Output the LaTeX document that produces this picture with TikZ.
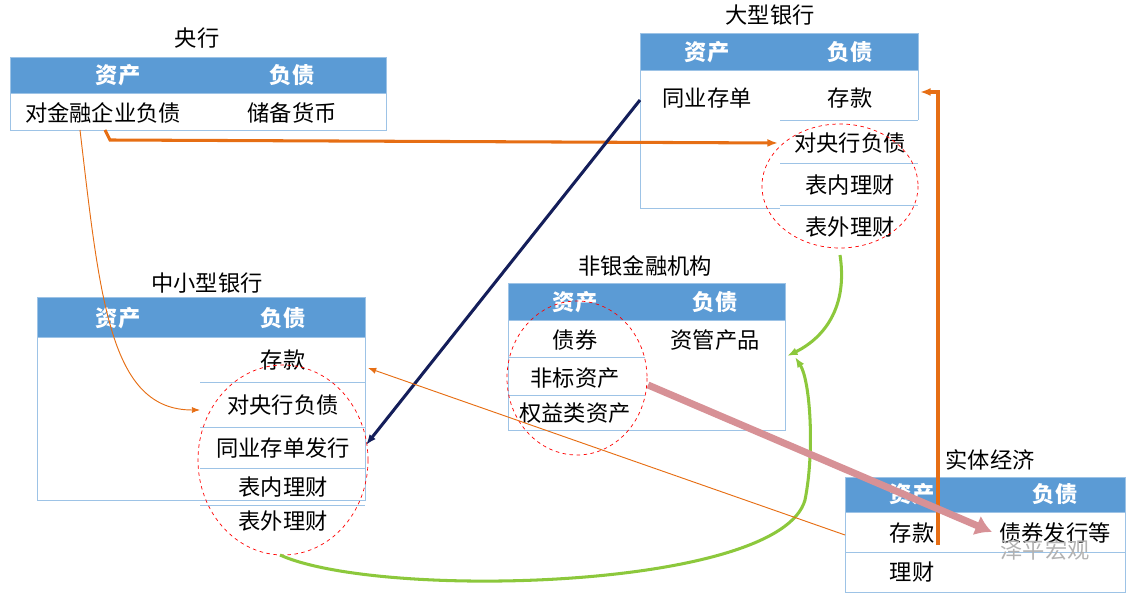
\documentclass[tikz,border=0pt]{standalone}
\usepackage{fontspec}
\setmainfont{Noto Sans CJK SC}
\usetikzlibrary{arrows.meta}
\definecolor{hd}{RGB}{91,155,213}
\definecolor{bd}{RGB}{157,195,230}
\definecolor{org}{RGB}{230,110,20}
\definecolor{nv}{RGB}{20,30,90}
\definecolor{gr}{RGB}{140,200,60}
\definecolor{pk}{RGB}{215,145,150}
\tikzset{px/.style={x=0.03cm,y=-0.03cm},
 hdr/.style={fill=hd,draw=bd},
 tb/.style={draw=bd,line width=0.8pt},
 ht/.style={text=white,font=\bfseries\fontsize{19}{19}\selectfont},
 tt/.style={font=\fontsize{19}{19}\selectfont},
 ttl/.style={font=\fontsize{19}{19}\selectfont},
 circ/.style={draw=red,dashed,line width=0.6pt},
 thick1/.style={line width=2.6pt},
}
\begin{document}
\begin{tikzpicture}[px]
\useasboundingbox (0,0) rectangle (1134,601);
% 央行
\node[ttl] (t1) at (197,38) {央行};
\draw[tb] (10,57) rectangle (386,130);
\fill[hdr] (10,57) rectangle (386,93);
\node[ht] (a1) at (118,75) {资产}; \node[ht] (b1) at (292,75) {负债};
\node[tt] (cb1) at (103,113) {对金融企业负债}; \node[tt] (cb2) at (292,113) {储备货币};
% 大型银行
\node[ttl] (t2) at (770,15) {大型银行};
\draw[tb] (640,33) -- (918,33) -- (918,120); \draw[tb] (640,33) -- (640,208) -- (780,208);
\fill[hdr] (640,33) rectangle (918,70);
\foreach \y in {120,163,205} \draw[tb] (780,\y) -- (918,\y);
\node[ht] at (707,52) {资产}; \node[ht] at (850,52) {负债};
\node[tt] (lb1) at (707,98) {同业存单}; \node[tt] (lb2) at (850,98) {存款};
\node[tt] (lb3) at (850,143) {对央行负债}; \node[tt] (lb4) at (850,185) {表内理财};
\node[tt] (lb5) at (850,227) {表外理财};
\draw[circ] (840,186) ellipse [x radius=78,y radius=62];
% 中小型银行
\node[ttl] (t3) at (207,283) {中小型银行};
\draw[tb] (37,297) rectangle (365,500);
\fill[hdr] (37,297) rectangle (365,337);
\foreach \y in {382,427,468,505} \draw[tb] (200,\y) -- (365,\y);
\node[ht] at (118,318) {资产}; \node[ht] at (283,318) {负债};
\node[tt] (sb1) at (283,360) {存款}; \node[tt] (sb2) at (283,405) {对央行负债};
\node[tt] (sb3) at (283,448) {同业存单发行}; \node[tt] (sb4) at (283,487) {表内理财};
\node[tt] (sb5) at (283,521) {表外理财};
\draw[circ] (283,460) ellipse [x radius=85,y radius=95];
% 非银
\node[ttl] (t4) at (645,266) {非银金融机构};
\draw[tb] (508,283) rectangle (785,430);
\fill[hdr] (508,283) rectangle (785,320);
\foreach \y in {357,395} \draw[tb] (508,\y) -- (645,\y);
\node[ht] at (575,302) {资产}; \node[ht] at (715,302) {负债};
\node[tt] (nb1) at (575,340) {债券}; \node[tt] (nb2) at (715,340) {资管产品};
\node[tt] (nb3) at (575,378) {非标资产}; \node[tt] (nb4) at (575,413) {权益类资产};
\draw[circ] (577,378) ellipse [x radius=70,y radius=77];
% 实体经济
\node[ttl] (t5) at (990,460) {实体经济};
\draw[tb] (845,477) rectangle (1125,592);
\fill[hdr] (845,477) rectangle (1125,512);
\draw[tb] (845,552) -- (1125,552);
\node[ht] at (912,494) {资产}; \node[ht] at (1055,494) {负债};
\node[tt] (eb1) at (912,533) {存款}; \node[tt] (eb2) at (1055,533) {债券发行等};
\node[tt] (eb3) at (912,572) {理财};
\node[text=gray!60,font=\fontsize{19}{19}\selectfont] (wm) at (1045,550) {泽平宏观};
% arrows
\coordinate (o1) at (105,130); \coordinate (o2) at (778,143);
\draw[org,thick1,-{Latex[length=9pt]}] (o1) -- (110,140) -- (o2);
\coordinate (o3) at (80,130); \coordinate (o4) at (200,410);
\draw[org,line width=0.8pt,-{Latex[length=7pt]}] (o3) .. controls (100,300) and (110,410) .. (o4);
\coordinate (c1) at (938,545); \coordinate (c2) at (938,92); \coordinate (c3) at (920,92);
\draw[org,thick1,-{Latex[length=9pt]}] (c1) -- (c2) -- (c3);
\coordinate (n1) at (640,100); \coordinate (n2) at (366,445);
\draw[nv,thick1,-{Latex[length=9pt]}] (n1) -- (n2);
\coordinate (g1) at (840,255); \coordinate (g2) at (787,356);
\draw[gr,thick1,-{Latex[length=9pt]}] (g1) .. controls (850,320) and (810,345) .. (g2);
\coordinate (g3) at (280,555); \coordinate (g4) at (795,357);
\draw[gr,thick1,-{Latex[length=9pt]}] (g3) .. controls (380,600) and (780,590) .. (805,500) .. controls (815,450) and (810,380) .. (g4);
\coordinate (e1) at (845,535); \coordinate (e2) at (368,368);
\draw[org,line width=0.8pt,-{Latex[length=7pt]}] (e1) -- (e2);
\coordinate (p1) at (648,385); \coordinate (p2) at (992,532);
\draw[pk,line width=6pt,-{Latex[length=14pt,width=18pt]}] (p1) -- (p2);
\end{tikzpicture}
\end{document}
